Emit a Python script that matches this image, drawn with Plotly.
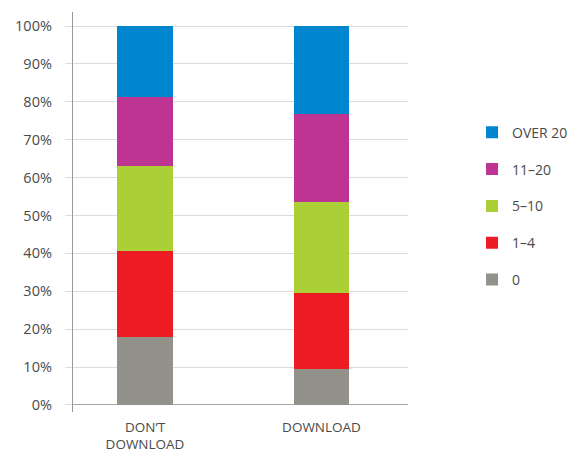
import plotly.graph_objects as go

categories = ["DON’T<br>DOWNLOAD", "DOWNLOAD"]
series_names = ["0", "1–4", "5–10", "11–20", "OVER 20"]
values_0 = [18.0, 9.4]
values_1_4 = [22.6, 20.1]
values_5_10 = [22.5, 24.1]
values_11_20 = [18.2, 23.2]
values_over_20 = [18.7, 23.2]
colors = ["#92928a", "#ed1c24", "#aacf37", "#be3493", "#0085cf"]
y_ticks = [0, 10, 20, 30, 40, 50, 60, 70, 80, 90, 100]

series_values = [values_0, values_1_4, values_5_10, values_11_20, values_over_20]

FONT = "Open Sans"
TXT = "#4a4a4a"

fig = go.Figure()
n = len(series_names)
for i, (name, vals, col) in enumerate(zip(series_names, series_values, colors)):
    fig.add_trace(go.Bar(
        x=categories, y=vals, name=name, marker_color=col,
        marker_line_width=0, width=0.317, legendgroup=name,
        legendrank=n - i,
    ))

fig.update_layout(
    width=575, height=453,
    barmode="stack",
    plot_bgcolor="white", paper_bgcolor="white",
    margin=dict(l=65, r=175, t=4, b=49, autoexpand=False),
    font=dict(family=FONT, color=TXT, size=13),
    showlegend=True,
    legend=dict(
        traceorder="grouped", tracegroupgap=15.6,
        xref="container", yref="container",
        x=0.807, xanchor="left", y=0.76, yanchor="top",
        font=dict(size=14, color=TXT), bgcolor="rgba(0,0,0,0)",
    ),
    xaxis=dict(
        type="category", range=[-0.408, 1.49], showgrid=False,
        showline=False, zeroline=False, ticks="", automargin=False,
        tickfont=dict(size=13.5, color=TXT), ticklabelstandoff=5,
    ),
    yaxis=dict(
        range=[-1.85, 103.7], tickvals=y_ticks, automargin=False,
        ticktext=[f"{v}%" for v in y_ticks],
        showgrid=True, gridcolor="#dcdcdc", gridwidth=1.3,
        zeroline=True, zerolinecolor="#a8a8a0", zerolinewidth=1.3,
        showline=True, linecolor="#9a9a94", linewidth=1.3,
        ticks="outside", ticklen=7, tickcolor="#dcdcdc", tickwidth=1.3,
        tickfont=dict(size=14.5, color=TXT), ticklabelstandoff=10,
    ),
)

fig.write_html("out.html")
